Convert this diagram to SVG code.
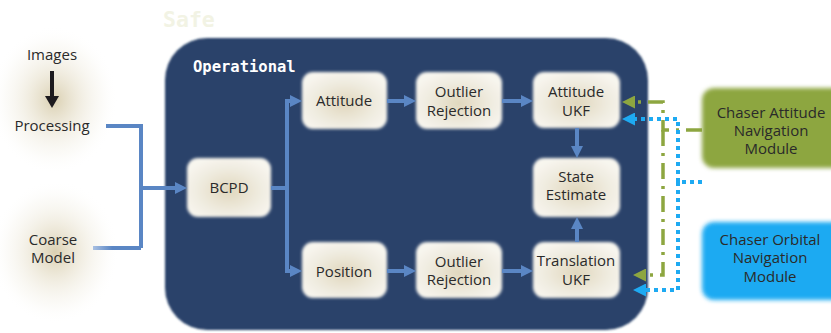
<svg xmlns="http://www.w3.org/2000/svg" width="831" height="333" viewBox="0 0 831 333">
  <defs>
    <style>
      .lbl { font-family: "Open Sans", "Noto Sans", "DejaVu Sans", sans-serif; font-size: 15px; fill: #2a2a2a; text-anchor: middle; }
      .mono { font-family: "DejaVu Sans Mono", "Liberation Mono", monospace; font-weight: bold; }
      .box { fill: url(#cream); filter: url(#soft); }
      .flow { fill: none; stroke: #5a86c4; stroke-width: 4; }
      .att { fill: none; stroke: #8da640; stroke-width: 3.5; stroke-dasharray: 16 7 3 7; }
      .orb { fill: none; stroke: #1eaaf2; stroke-width: 4; stroke-dasharray: 4 4; }
    </style>
    <radialGradient id="cream" cx="0.5" cy="0.55" r="0.6">
      <stop offset="0" stop-color="#e0d7bd"/>
      <stop offset="0.6" stop-color="#efebdf"/>
      <stop offset="1" stop-color="#f8f6ef"/>
    </radialGradient>
    <radialGradient id="glow" cx="0.5" cy="0.5" r="0.5">
      <stop offset="0" stop-color="#c2b17f" stop-opacity="0.6"/>
      <stop offset="0.4" stop-color="#dcd2b4" stop-opacity="0.4"/>
      <stop offset="0.75" stop-color="#eeeadc" stop-opacity="0.2"/>
      <stop offset="1" stop-color="#ffffff" stop-opacity="0"/>
    </radialGradient>
    <linearGradient id="fade" gradientUnits="userSpaceOnUse" x1="141" y1="0" x2="93" y2="0">
      <stop offset="0.6" stop-color="#5a86c4"/>
      <stop offset="1" stop-color="#a9c0e2"/>
    </linearGradient>
    <filter id="soft" x="-20%" y="-20%" width="140%" height="140%">
      <feGaussianBlur stdDeviation="1.6"/>
    </filter>
    <filter id="edge" x="-5%" y="-5%" width="110%" height="110%">
      <feGaussianBlur stdDeviation="1"/>
    </filter>
    <filter id="modsoft" x="-20%" y="-20%" width="140%" height="140%">
      <feGaussianBlur stdDeviation="2.2"/>
    </filter>
    <marker id="ahBlue" markerUnits="userSpaceOnUse" markerWidth="12" markerHeight="12" refX="0" refY="6" orient="auto">
      <path d="M0,0 L12,6 L0,12 z" fill="#5a86c4"/>
    </marker>
    <marker id="ahGreen" markerUnits="userSpaceOnUse" markerWidth="13" markerHeight="13" refX="0" refY="6.5" orient="auto">
      <path d="M0,0 L13,6.5 L0,13 z" fill="#8da640"/>
    </marker>
    <marker id="ahCyan" markerUnits="userSpaceOnUse" markerWidth="13" markerHeight="13" refX="0" refY="6.5" orient="auto">
      <path d="M0,0 L13,6.5 L0,13 z" fill="#1eaaf2"/>
    </marker>
    <marker id="ahBlack" markerUnits="userSpaceOnUse" markerWidth="14" markerHeight="14" refX="0" refY="7" orient="auto">
      <path d="M0,0 L12,7 L0,14 z" fill="#1c1a1e"/>
    </marker>
  </defs>

  <rect width="831" height="333" fill="#ffffff"/>

  <!-- Safe mode caption -->
  <text class="mono" x="163" y="27" font-size="21.5" fill="#f2f3e4">Safe</text>

  <!-- Operational container -->
  <g id="operational">
    <rect x="165" y="38" width="483" height="292" rx="42" fill="#29436a" filter="url(#edge)"/>
    <text class="mono" x="193" y="72" font-size="15.5" fill="#ffffff">Operational</text>
  </g>

  <!-- Inputs -->
  <g id="images">
    <ellipse cx="54" cy="100" rx="64" ry="74" fill="url(#glow)"/>
    <text class="lbl" x="52" y="60">Images</text>
  </g>
  <g id="processing">
    <text class="lbl" x="52" y="131">Processing</text>
  </g>
  <g id="coarse-model">
    <ellipse cx="55" cy="252" rx="64" ry="72" fill="url(#glow)"/>
    <text class="lbl" x="53" y="245">Coarse</text>
    <text class="lbl" x="53" y="263">Model</text>
  </g>

  <!-- Processing nodes -->
  <g id="bcpd">
    <rect class="box" x="187" y="158" width="84" height="59" rx="11"/>
    <text class="lbl" x="229" y="193">BCPD</text>
  </g>
  <g id="attitude">
    <rect class="box" x="302" y="72" width="85" height="57" rx="11"/>
    <text class="lbl" x="344" y="106">Attitude</text>
  </g>
  <g id="outlier-att">
    <rect class="box" x="416" y="72" width="86" height="57" rx="11"/>
    <text class="lbl" x="459" y="97">Outlier</text>
    <text class="lbl" x="459" y="116">Rejection</text>
  </g>
  <g id="attitude-ukf">
    <rect class="box" x="533" y="72" width="87" height="56" rx="11"/>
    <text class="lbl" x="576" y="97">Attitude</text>
    <text class="lbl" x="576" y="116">UKF</text>
  </g>
  <g id="state-estimate">
    <rect class="box" x="533" y="158" width="87" height="59" rx="11"/>
    <text class="lbl" x="576" y="182">State</text>
    <text class="lbl" x="576" y="200">Estimate</text>
  </g>
  <g id="position">
    <rect class="box" x="302" y="242" width="85" height="56" rx="11"/>
    <text class="lbl" x="344" y="277">Position</text>
  </g>
  <g id="outlier-pos">
    <rect class="box" x="416" y="242" width="86" height="56" rx="11"/>
    <text class="lbl" x="459" y="267">Outlier</text>
    <text class="lbl" x="459" y="285">Rejection</text>
  </g>
  <g id="translation-ukf">
    <rect class="box" x="533" y="242" width="87" height="56" rx="11"/>
    <text class="lbl" x="576" y="266">Translation</text>
    <text class="lbl" x="576" y="285">UKF</text>
  </g>

  <!-- Navigation modules -->
  <g id="attitude-nav">
    <rect x="702" y="88" width="150" height="80" rx="12" fill="#8da640" filter="url(#modsoft)"/>
    <text class="lbl" x="771" y="118">Chaser Attitude</text>
    <text class="lbl" x="771" y="136">Navigation</text>
    <text class="lbl" x="771" y="154">Module</text>
  </g>
  <g id="orbital-nav">
    <rect x="702" y="222" width="150" height="78" rx="12" fill="#1eaaf2" filter="url(#modsoft)"/>
    <text class="lbl" x="770" y="245">Chaser Orbital</text>
    <text class="lbl" x="770" y="263">Navigation</text>
    <text class="lbl" x="770" y="282">Module</text>
  </g>

  <!-- Connectors -->
  <g id="connectors">
    <path d="M52,71 V96" fill="none" stroke="#1c1a1e" stroke-width="4" marker-end="url(#ahBlack)"/>
    <path class="flow" d="M106,126 H141 V248"/>
    <path d="M141,248 H93" fill="none" stroke="url(#fade)" stroke-width="4"/>
    <path class="flow" d="M141,188 H175" marker-end="url(#ahBlue)"/>
    <path class="flow" d="M271,188 H287"/>
    <path class="flow" d="M287,188 V101 H290" marker-end="url(#ahBlue)"/>
    <path class="flow" d="M287,188 V271 H290" marker-end="url(#ahBlue)"/>
    <path class="flow" d="M387,101 H404" marker-end="url(#ahBlue)"/>
    <path class="flow" d="M502,101 H521" marker-end="url(#ahBlue)"/>
    <path class="flow" d="M387,271 H404" marker-end="url(#ahBlue)"/>
    <path class="flow" d="M502,271 H521" marker-end="url(#ahBlue)"/>
    <path class="flow" d="M577,128 V146" marker-end="url(#ahBlue)"/>
    <path class="flow" d="M577,242 V229" marker-end="url(#ahBlue)"/>

    <path class="att" d="M702,130 H663 V102 H635" marker-end="url(#ahGreen)"/>
    <path class="att" d="M663,130 V275 H646" marker-end="url(#ahGreen)"/>
    <path class="orb" d="M702,182 H678 V119 H635" marker-end="url(#ahCyan)"/>
    <path class="orb" d="M678,182 V290 H646" marker-end="url(#ahCyan)"/>
  </g>
</svg>
